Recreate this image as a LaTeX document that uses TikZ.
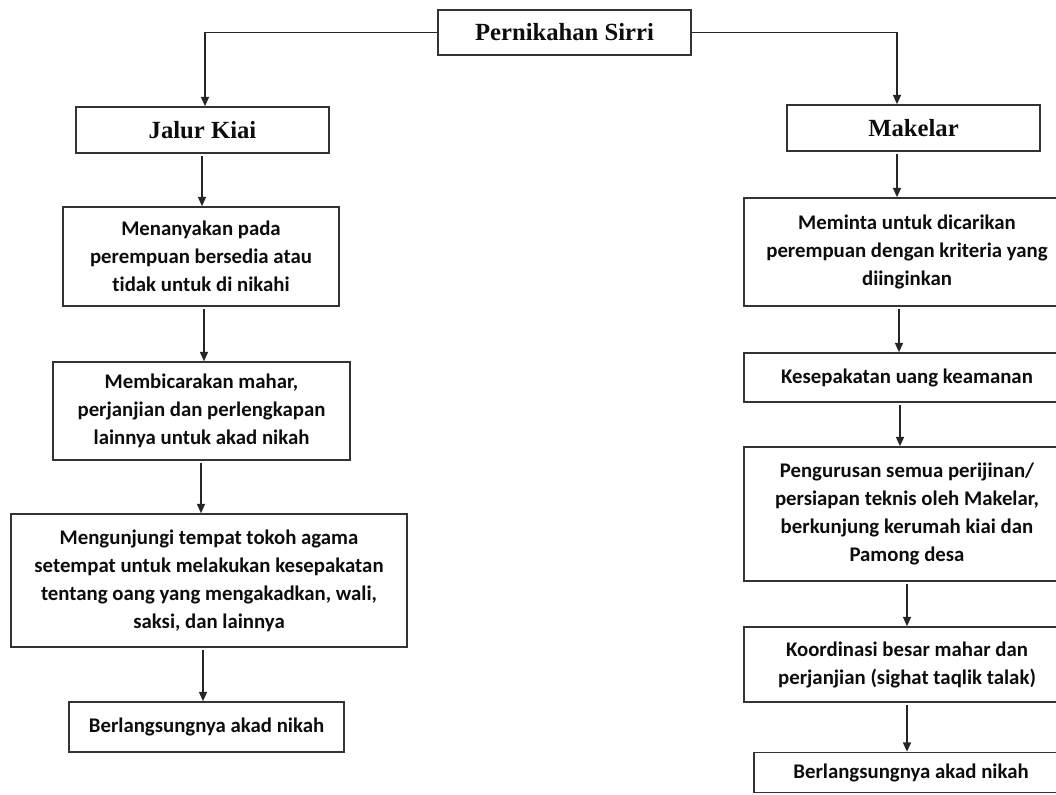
\documentclass[tikz,border=0pt]{standalone}
\usepackage{fontspec}
\usepackage{tikz}
\usetikzlibrary{arrows.meta}
\newfontfamily\isifont{Carlito}[Ligatures=NoCommon]
\newfontfamily\judulfont{Liberation Serif}

\tikzset{
	kotak/.style={draw=black!80, line width=1.2pt, align=center, inner sep=2pt, text=black!95,
		font=\isifont\bfseries\fontsize{15.6}{21}\selectfont},
	judul/.style={kotak, font=\judulfont\bfseries\fontsize{18.5}{22}\selectfont},
	ukuran/.style 2 args={minimum width=#1*0.75pt, minimum height=#2*0.75pt},
	panah/.style={->, >={Triangle[length=7pt,width=6pt]}, line width=1.2pt, draw=black!85, shorten <=1.5pt},
}

\begin{document}
\begin{tikzpicture}[x=0.75pt,y=-0.75pt]
	\useasboundingbox (0,0) rectangle (1056,794);

	% atas
	\node[judul, ukuran={253}{45}] (sirri) at (564.5,32.5) {Pernikahan Sirri};
	\node[judul, ukuran={253}{46}] (kiai) at (202.5,130) {Jalur Kiai};
	\node[judul, ukuran={253}{46}] (makelar) at (913.5,128) {Makelar};

	% jalur kiai
	\node[kotak, ukuran={276}{99}] (k1) at (201,256.5) {Menanyakan pada\\perempuan bersedia atau\\tidak untuk di nikahi};
	\node[kotak, ukuran={297}{98}] (k2) at (201.5,411) {Membicarakan mahar,\\perjanjian dan perlengkapan\\lainnya untuk akad nikah};
	\node[kotak, ukuran={396}{133}] (k3) at (209,580.5) {Mengunjungi tempat tokoh agama\\setempat untuk melakukan kesepakatan\\tentang oang yang mengakadkan, wali,\\saksi, dan lainnya};
	\node[kotak, ukuran={275}{50}] (k4) at (206.5,727) {Berlangsungnya akad nikah};

	% makelar
	\node[kotak, ukuran={326}{108}] (m1) at (907,252) {Meminta untuk dicarikan\\perempuan dengan kriteria yang\\diinginkan};
	\node[kotak, ukuran={326}{49}] (m2) at (907,377.5) {Kesepakatan uang keamanan};
	\node[kotak, ukuran={326}{134}] (m3) at (907,514) {Pengurusan semua perijinan/\\persiapan teknis oleh Makelar,\\berkunjung kerumah kiai dan\\Pamong desa};
	\node[kotak, ukuran={326}{75}] (m4) at (907,664.5) {Koordinasi besar mahar dan\\perjanjian (sighat taqlik talak)};
	\node[kotak, ukuran={314}{40}] (m5) at (911,772.5) {Berlangsungnya akad nikah};

	% panah
	\draw[panah, shorten <=0pt] (sirri.west) -| (kiai.north -| 205,0);
	\draw[panah, shorten <=0pt] (sirri.east) -| (makelar.north -| 897,0);
	\foreach \a/\b/\x in {kiai/k1/202, k1/k2/204, k2/k3/201, k3/k4/203,
		makelar/m1/897, m1/m2/899, m2/m3/900, m3/m4/907, m4/m5/907}
		\draw[panah] (\a.south -| \x,0) -- (\b.north -| \x,0);
\end{tikzpicture}
\end{document}
